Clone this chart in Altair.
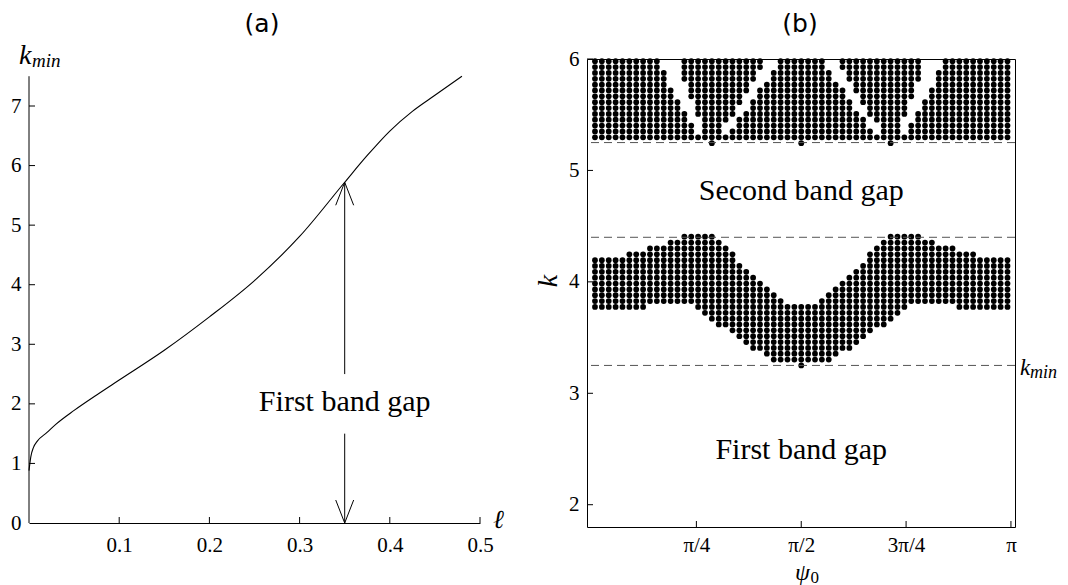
import math
import altair as alt
import pandas as pd

PI = math.pi
SERIF = "Liberation Serif"
SANS = "DejaVu Sans"

# ---------------- panel (a): k_min versus ell ----------------
ell_values = [0.0, 0.002, 0.005, 0.009, 0.02, 0.03, 0.05, 0.075, 0.1, 0.15,
              0.2, 0.25, 0.3, 0.35, 0.375, 0.4, 0.425, 0.45, 0.48]
kmin_values = [0.88, 1.11, 1.27, 1.37, 1.52, 1.66, 1.89, 2.15, 2.40, 2.90,
               3.46, 4.07, 4.81, 5.72, 6.17, 6.58, 6.91, 7.18, 7.50]
a_x_ticks = [0.1, 0.2, 0.3, 0.4, 0.5]
a_y_labels = [0, 1, 2, 3, 4, 5, 6, 7]
a_y_ticks = [1, 2, 3, 4, 5, 6, 7]
a_axis_top = 7.5
arrow_ell = 0.35
arrow_seg_lo = [0.0, 2.50]
arrow_seg_hi = [1.50, 5.72]
arrow_tip_top = 5.72
arrow_tip_bottom = 0.0
a_text = "First band gap"
a_text_k = 1.875

# ---------------- panel (b): pass bands over (psi0, k) ----------------
N_COLS = 61
K_START, K_STEP = 1.78, 0.0525
# row index of the highest / lowest dot of the first pass band, per column
lower_top = [46, 46, 46, 46, 46, 47, 47, 47, 48, 48, 48, 49, 49, 50, 50, 50, 50, 50,
             49, 48, 47, 45, 44, 43, 42, 41, 40, 39,
             38, 38, 38, 38, 38,
             39, 40, 41, 42, 43, 44, 45, 47, 48, 49,
             50, 50, 50, 50, 50, 49, 49, 48, 48, 48, 47, 47, 47, 46, 46, 46, 46, 46]
lower_bottom = [38, 38, 38, 38, 38, 38, 38, 38, 39, 39, 39, 39, 39, 39, 39,
                38, 37, 36, 35, 35, 34, 33, 32, 31, 31, 30,
                29, 29, 29, 29, 29, 29, 29, 29, 29,
                30, 31, 31, 32, 33, 34, 35, 35, 36, 37, 38,
                39, 39, 39, 39, 39, 39, 39, 38, 38, 38, 38, 38, 38, 38, 38]
lower_extra = [(30, 28)]
upper_bottom = 67
upper_top = 80
# empty column ranges inside the second band, per row
upper_gaps = {
    80: [(10, 12), (25, 26), (34, 35), (48, 50)],
    79: [(10, 12), (25, 26), (34, 35), (48, 50)],
    78: [(11, 12), (24, 25), (35, 36), (48, 49)],
    77: [(11, 12), (24, 25), (35, 36), (48, 49)],
    76: [(11, 13), (23, 24), (36, 37), (47, 49)],
    75: [(12, 13), (23, 23), (37, 37), (47, 48)],
    74: [(12, 13), (22, 23), (37, 38), (47, 48)],
    73: [(13, 14), (22, 22), (38, 38), (46, 47)],
    72: [(13, 14), (21, 22), (38, 39), (46, 47)],
    71: [(14, 14), (21, 21), (39, 39), (46, 46)],
    70: [(14, 15), (20, 20), (40, 40), (45, 46)],
    69: [(15, 15), (19, 20), (40, 41), (45, 45)],
    68: [(15, 15), (19, 19), (41, 41), (45, 45)],
}
upper_extra = [(17, 66), (30, 66), (43, 66)]
b_psi_ticks = [PI / 4, PI / 2, 3 * PI / 4, PI]
b_psi_labels = ["π/4", "π/2", "3π/4", "π"]
b_k_ticks = [2, 3, 4, 5, 6]
dashed_levels = [3.25, 4.40, 5.25]
b_texts = ["Second band gap", "First band gap"]
b_text_psi = [PI / 2, PI / 2]
b_text_k = [4.735, 2.41]

# ---------------- layout ----------------
W_A, H_A = 451, 464
A_Y_MAX = 7.789
W_B, H_B = 428, 468
SPACING = 107
TICK = 6
LABEL_SIZE = 21
one = pd.DataFrame({"d": [0]})

xa = alt.Scale(domain=[0, 0.5], nice=False, zero=False)
ya = alt.Scale(domain=[0, A_Y_MAX], nice=False, zero=False)
AX_A_X = alt.Axis(values=a_x_ticks, format=".1f", ticks=False, domain=True, domainColor="black",
                  domainWidth=1, labelFont=SERIF, labelFontSize=LABEL_SIZE, labelColor="black",
                  labelPadding=11, labelFlush=False, labelOverlap=False, grid=False, title=None)
AX_A_Y = alt.Axis(values=a_y_labels, format="d", ticks=False, domain=False, labelFont=SERIF,
                  labelFontSize=LABEL_SIZE, labelColor="black", labelPadding=8, labelFlush=False,
                  labelOverlap=False, grid=False, title=None)


def XA(field):
    return alt.X(field, scale=xa, axis=AX_A_X)


def YA(field):
    return alt.Y(field, scale=ya, axis=AX_A_Y)


curve_df = pd.DataFrame({"l": ell_values, "k": kmin_values})
helper = alt.Chart(one).mark_rule(opacity=0, strokeWidth=0).encode(
    x=alt.value(-29), y=alt.value(-59), y2=alt.value(-50))
curve = alt.Chart(curve_df).mark_line(color="black", strokeWidth=1.1, interpolate="monotone").encode(
    x=XA("l:Q"), y=YA("k:Q"))
yline = alt.Chart(pd.DataFrame({"l": [0.0], "k0": [0.0], "k1": [a_axis_top]})).mark_rule(
    color="black", strokeWidth=1).encode(x=XA("l:Q"), y=YA("k0:Q"), y2="k1:Q")
a_xt = alt.Chart(pd.DataFrame({"l": a_x_ticks})).mark_rule(color="black", strokeWidth=1).encode(
    x=XA("l:Q"), y=alt.value(H_A), y2=alt.value(H_A - TICK))
a_yt = alt.Chart(pd.DataFrame({"k": a_y_ticks})).mark_rule(color="black", strokeWidth=1).encode(
    y=YA("k:Q"), x=alt.value(0), x2=alt.value(TICK))
arrow_df = pd.DataFrame({"l": [arrow_ell] * 2, "k0": arrow_seg_lo, "k1": arrow_seg_hi})
arrow = alt.Chart(arrow_df).mark_rule(color="black", strokeWidth=1).encode(
    x=XA("l:Q"), y=YA("k0:Q"), y2="k1:Q")
head_up = alt.Chart(pd.DataFrame({"l": [arrow_ell], "k": [arrow_tip_top]})).mark_point(
    shape="M-0.78,2L0,0L0.78,2", filled=False, color="black", strokeWidth=1, size=529, opacity=1).encode(
    x=XA("l:Q"), y=YA("k:Q"))
head_down = alt.Chart(pd.DataFrame({"l": [arrow_ell], "k": [arrow_tip_bottom]})).mark_point(
    shape="M-0.78,-2L0,0L0.78,-2", filled=False, color="black", strokeWidth=1, size=529, opacity=1).encode(
    x=XA("l:Q"), y=YA("k:Q"))
a_label = alt.Chart(pd.DataFrame({"l": [arrow_ell], "k": [a_text_k], "t": [a_text]})).mark_text(
    font=SERIF, fontSize=30, align="center", baseline="alphabetic", color="black").encode(
    x=XA("l:Q"), y=YA("k:Q"), text="t:N")
k_lab = alt.Chart(one).mark_text(text="k", font=SERIF, fontStyle="italic", fontSize=28,
                                 align="left", baseline="alphabetic", color="black").encode(
    x=alt.value(-10), y=alt.value(5))
min_lab = alt.Chart(one).mark_text(text="min", font=SERIF, fontStyle="italic", fontSize=19,
                                   align="left", baseline="alphabetic", color="black").encode(
    x=alt.value(3), y=alt.value(8))
ell_lab = alt.Chart(one).mark_text(text="ℓ", font=SERIF, fontStyle="italic", fontSize=26,
                                   align="left", baseline="alphabetic", color="black").encode(
    x=alt.value(W_A + 13), y=alt.value(H_A + 5))
title_a = alt.Chart(one).mark_text(text="(a)", font=SANS, fontSize=25, align="center",
                                   baseline="alphabetic", color="black").encode(
    x=alt.value(233), y=alt.value(-27))

panel_a = alt.layer(curve, helper, yline, a_xt, a_yt, arrow, head_up, head_down, a_label,
                    k_lab, min_lab, ell_lab, title_a).properties(
    width=W_A, height=H_A, view=alt.ViewBackground(stroke=None))

# ---- panel (b) ----
xb = alt.Scale(domain=[-0.034, 3.172], nice=False, zero=False)
yb = alt.Scale(domain=[1.8, 6.0], nice=False, zero=False)
label_expr = "[" + ",".join("'" + s + "'" for s in b_psi_labels) + "][round(datum.value*4/PI)-1]"
AX_B_X = alt.Axis(values=b_psi_ticks, labelExpr=label_expr, ticks=False, domain=False,
                  labelFont=SERIF, labelFontSize=LABEL_SIZE, labelColor="black", labelPadding=7,
                  labelFlush=False, labelOverlap=False, grid=False, title=None)
AX_B_Y = alt.Axis(values=b_k_ticks, format="d", ticks=False, domain=False, labelFont=SERIF,
                  labelFontSize=LABEL_SIZE, labelColor="black", labelPadding=8, labelFlush=False,
                  labelOverlap=False, grid=False, title=None)


def XB(field):
    return alt.X(field, scale=xb, axis=AX_B_X)


def YB(field):
    return alt.Y(field, scale=yb, axis=AX_B_Y)


dots = []
for j in range(N_COLS):
    psi = (j + 0.5) * PI / N_COLS
    for i in range(lower_bottom[j], lower_top[j] + 1):
        dots.append({"psi": psi, "k": K_START + K_STEP * i})
    for i in range(upper_bottom, upper_top + 1):
        gaps = upper_gaps.get(i, [])
        if any(a <= j <= b for a, b in gaps):
            continue
        dots.append({"psi": psi, "k": K_START + K_STEP * i})
for j, i in lower_extra + upper_extra:
    dots.append({"psi": (j + 0.5) * PI / N_COLS, "k": K_START + K_STEP * i})
dots_df = pd.DataFrame(dots)

dot_layer = alt.Chart(dots_df).mark_circle(size=33, color="black", opacity=1).encode(
    x=XB("psi:Q"), y=YB("k:Q"))
dashed = alt.Chart(pd.DataFrame({"k": dashed_levels})).mark_rule(
    color="#555555", strokeWidth=1, strokeDash=[8, 5]).encode(y=YB("k:Q"))
b_xt = alt.Chart(pd.DataFrame({"psi": b_psi_ticks})).mark_rule(color="black", strokeWidth=1).encode(
    x=XB("psi:Q"), y=alt.value(H_B), y2=alt.value(H_B - TICK))
b_yt = alt.Chart(pd.DataFrame({"k": b_k_ticks})).mark_rule(color="black", strokeWidth=1).encode(
    y=YB("k:Q"), x=alt.value(0), x2=alt.value(TICK))
b_labels = alt.Chart(pd.DataFrame({"psi": b_text_psi, "k": b_text_k, "t": b_texts})).mark_text(
    font=SERIF, fontSize=30, align="center", baseline="alphabetic", color="black").encode(
    x=XB("psi:Q"), y=YB("k:Q"), text="t:N")
k_title = alt.Chart(one).mark_text(text="k", font=SERIF, fontStyle="italic", fontSize=28,
                                   angle=270, align="center", baseline="alphabetic",
                                   color="black").encode(x=alt.value(-30), y=alt.value(222))
psi_title = alt.Chart(one).mark_text(text="ψ", font=SERIF, fontStyle="italic", fontSize=24,
                                     align="right", baseline="alphabetic", color="black").encode(
    x=alt.value(223), y=alt.value(521))
psi_sub = alt.Chart(one).mark_text(text="0", font=SERIF, fontSize=17, align="left",
                                   baseline="alphabetic", color="black").encode(
    x=alt.value(223.5), y=alt.value(524))
kr = alt.Chart(one).mark_text(text="k", font=SERIF, fontStyle="italic", fontSize=23,
                              align="left", baseline="alphabetic", color="black").encode(
    x=alt.value(W_B + 5), y=alt.value(316))
minr = alt.Chart(one).mark_text(text="min", font=SERIF, fontStyle="italic", fontSize=18,
                                align="left", baseline="alphabetic", color="black").encode(
    x=alt.value(W_B + 15), y=alt.value(319))
title_b = alt.Chart(one).mark_text(text="(b)", font=SANS, fontSize=25, align="center",
                                   baseline="alphabetic", color="black").encode(
    x=alt.value(213), y=alt.value(-27))

panel_b = alt.layer(dot_layer, dashed, b_xt, b_yt, b_labels, k_title, psi_title, psi_sub,
                    kr, minr, title_b).properties(
    width=W_B, height=H_B, view=alt.ViewBackground(stroke="black", strokeWidth=1))

chart = alt.hconcat(panel_a, panel_b, spacing=SPACING, bounds="flush").properties(
    padding=0).configure(background="white").configure_view(stroke=None)

chart.save("out.html", embed_options={"renderer": "svg", "actions": False})
